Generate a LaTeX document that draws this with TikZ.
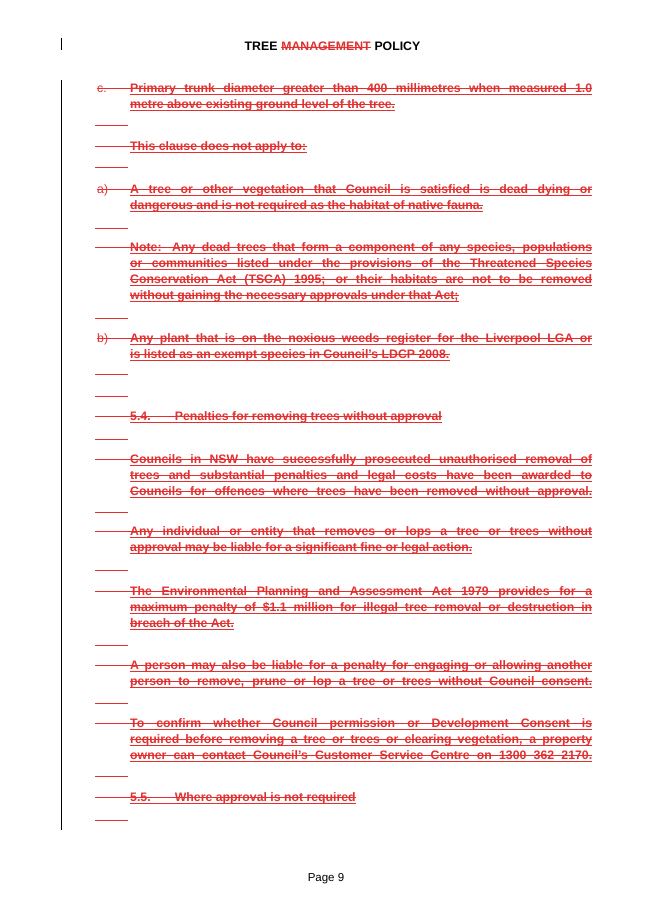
\documentclass[tikz,border=0pt]{standalone}
\usepackage{fontspec}
\setmainfont{Liberation Sans}
\definecolor{rd}{RGB}{226,48,48}
\newcounter{ln}
\tikzset{txt/.style={inner sep=0pt,anchor=base west,text=rd,font=\bfseries\fontsize{11.2}{13}\selectfont},
 mk/.style={draw=rd,line width=0.6pt}}
\newcommand\myMarks{%
 \draw[mk] ([yshift=-1.7pt]l\theln.base west) -- ([yshift=-1.7pt]l\theln.base east);
 \draw[mk] ([yshift=3pt]l\theln.base west) -- ([yshift=3pt]l\theln.base east);}
\newcommand\myJl[2]{\stepcounter{ln}\node[txt] (l\theln) at (130,#1) {\hbox to 421.2pt{#2}};\myMarks}
\newcommand\myNl[2]{\stepcounter{ln}\node[txt] (l\theln) at (130,#1) {#2};\myMarks}
\newcommand\myTab[1]{\stepcounter{ln}\coordinate (t\theln) at (95,#1);\coordinate (u\theln) at (130,#1);
 \draw[mk] ([yshift=3pt]t\theln) -- ([yshift=3pt]u\theln);}
\newcommand\myStub[1]{\stepcounter{ln}\coordinate (t\theln) at (95,#1);\coordinate (u\theln) at (128,#1);
 \draw[mk] (t\theln) -- (u\theln);}
\newcommand\myMk[2]{\stepcounter{ln}\node[txt,font=\fontsize{11.2}{13}\selectfont] (m\theln) at (97,#1) {#2};\coordinate (u\theln) at (130,#1);
 \draw[mk] ([yshift=3pt]m\theln.base west) -- ([yshift=3pt]u\theln);}
\begin{document}
\begin{tikzpicture}[x=0.9117pt,y=-0.9117pt]
\useasboundingbox (0,0) rectangle (653,924);
\draw[line width=0.8pt] (61,38) coordinate (b1) -- (61,50) coordinate (b2);
\draw[line width=0.8pt] (61,80) coordinate (b3) -- (61,830) coordinate (b4);
\node[txt,text=rd,anchor=base] (hm) at (326,51) {MANAGEMENT};
\node[txt,text=black,anchor=base east] (ht) at ([xshift=-3.1pt]hm.base west) {TREE};
\node[txt,text=black,anchor=base west] (hp) at ([xshift=3.1pt]hm.base east) {POLICY};
\draw[mk] ([yshift=3pt]hm.base west) -- ([yshift=3pt]hm.base east);
\myMk{92}{c.}
\myJl{92}{Primary trunk diameter greater than 400 millimetres when measured 1.0}
\myNl{108}{metre above existing ground level of the tree.}
\myStub{125}
\myTab{150}\myNl{150}{This clause does not apply to:}
\myStub{167}
\myMk{193}{a)}
\myJl{193}{A tree or other vegetation that Council is satisfied is dead dying or}
\myNl{209}{dangerous and is not required as the habitat of native fauna.}
\myStub{228}
\myTab{251}
\myJl{251}{Note: Any dead trees that form a component of any species, populations}
\myJl{267}{or communities listed under the provisions of the Threatened Species}
\myJl{283}{Conservation Act (TSCA) 1995; or their habitats are not to be removed}
\myNl{299}{without gaining the necessary approvals under that Act;}
\myStub{318}
\myMk{342}{b)}
\myJl{342}{Any plant that is on the noxious weeds register for the Liverpool LGA or}
\myNl{358}{is listed as an exempt species in Council's LDCP 2008.}
\myStub{374}\myStub{396}
\myTab{420}\myNl{420}{5.4.\hspace{22pt}Penalties for removing trees without approval}
\myStub{439}
\myTab{463}
\myJl{463}{Councils in NSW have successfully prosecuted unauthorised removal of}
\myJl{479}{trees and substantial penalties and legal costs have been awarded to}
\myJl{495}{Councils for offences where trees have been removed without approval.}
\myStub{512}
\myTab{535}
\myJl{535}{Any individual or entity that removes or lops a tree or trees without}
\myNl{551}{approval may be liable for a significant fine or legal action.}
\myStub{570}
\myTab{595}
\myJl{595}{The Environmental Planning and Assessment Act 1979 provides for a}
\myJl{611}{maximum penalty of \$1.1 million for illegal tree removal or destruction in}
\myNl{627}{breach of the Act.}
\myStub{645}
\myTab{669}
\myJl{669}{A person may also be liable for a penalty for engaging or allowing another}
\myJl{685}{person to remove, prune or lop a tree or trees without Council consent.}
\myStub{703}
\myTab{727}
\myJl{727}{To confirm whether Council permission or Development Consent is}
\myJl{743}{required before removing a tree or trees or clearing vegetation, a property}
\myJl{759}{owner can contact Council's Customer Service Centre on 1300 362 2170.}
\myStub{776}
\myTab{801}\myNl{801}{5.5.\hspace{22pt}Where approval is not required}
\myStub{820}
\node[inner sep=0pt,anchor=base,font=\fontsize{10.5}{12}\selectfont] (pg) at (326,881) {Page 9};
\end{tikzpicture}
\end{document}
